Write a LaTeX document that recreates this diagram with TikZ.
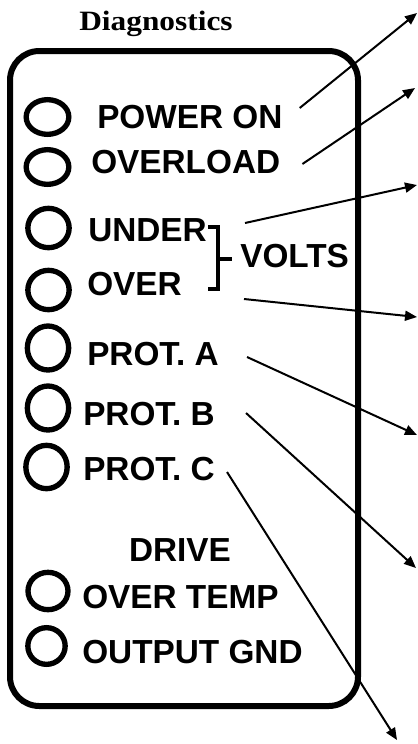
\documentclass[tikz,border=0pt]{standalone}
\usepackage{fontspec}
\setmainfont{Liberation Serif}
\setsansfont{Liberation Sans}
\usetikzlibrary{calc,shapes.geometric,arrows.meta}

\begin{document}
\begin{tikzpicture}[x=0.75pt, y=-0.75pt,
  led/.style 2 args={draw, ellipse, line width=4pt, minimum width=#1, minimum height=#2, inner sep=0pt},
  lbl/.style={anchor=west, inner sep=0pt, font=\sffamily\bfseries\fontsize{25}{25}\selectfont},
  brk/.style={line width=3.5pt},
  ptr/.style={line width=1.5pt, -{Triangle[length=9pt,width=7.5pt]}}]
  \useasboundingbox (0,0) rectangle (418,744);

  % title and panel
  \node[inner sep=0pt, font=\bfseries\fontsize{21}{21}\selectfont] (title) at (156,24) {\scalebox{1.12}[1]{Diagnostics}};
  \draw[line width=4.5pt, rounded corners=22pt] (10,51) rectangle (358,706);

  % lamps
  \node[led={32pt}{26pt}] (led1) at (47.5,117) {};
  \node[led={32pt}{26pt}] (led2) at (47.5,167) {};
  \node[led={31pt}{29.5pt}] (led3) at (48.5,228) {};
  \node[led={31pt}{29.5pt}] (led4) at (48.5,290) {};
  \node[led={31pt}{33pt}] (led5) at (48,348) {};
  \node[led={31pt}{33pt}] (led6) at (48,408) {};
  \node[led={31pt}{32.5pt}] (led7) at (46.5,467) {};
  \node[led={30pt}{28pt}] (led8) at (48,591) {};
  \node[led={28pt}{27.5pt}] (led9) at (46.5,646) {};

  % labels
  \node[lbl] (pwr)   at (97,117) {POWER ON};
  \node[lbl] (ovl)   at (91,162) {OVERLOAD};
  \node[lbl] (under) at (88,230) {UNDER};
  \node[lbl] (over)  at (87,284) {OVER};
  \node[lbl] (volts) at (240,256) {VOLTS};
  \node[lbl] (prota) at (87,354) {PROT. A};
  \node[lbl] (protb) at (83,414) {PROT. B};
  \node[lbl] (protc) at (83,469) {PROT. C};
  \node[lbl, anchor=center] (drive) at (180,550) {DRIVE};
  \node[lbl] (otemp) at (82,597) {OVER TEMP};
  \node[lbl] (ognd)  at (82,652) {OUTPUT GND};

  % bracket for VOLTS
  \draw[brk] (208,227) -- (218,227) -- (218,289) -- (208,289);
  \draw[brk] (218,259) -- (232,259);

  % pointer ends
  \coordinate (t1) at (417,13);
  \coordinate (t2) at (415,88);
  \coordinate (t3) at (417,185);
  \coordinate (t4) at (417,317);
  \coordinate (t5) at (417,435);
  \coordinate (t6) at (416,568);
  \coordinate (t7) at (397,740);

  \draw[ptr] ($(pwr.east)+(17,-9)$) -- (t1);
  \draw[ptr] ($(ovl.east)+(22,2)$) -- (t2);
  \draw[ptr] ($(under.east)+(38,-7)$) -- (t3);
  \draw[ptr] ($(over.east)+(62,15)$) -- (t4);
  \draw[ptr] ($(prota.east)+(28,3)$) -- (t5);
  \draw[ptr] ($(protb.east)+(31,-1)$) -- (t6);
  \draw[ptr] ($(protc.east)+(12,3)$) -- (t7);
\end{tikzpicture}
\end{document}
